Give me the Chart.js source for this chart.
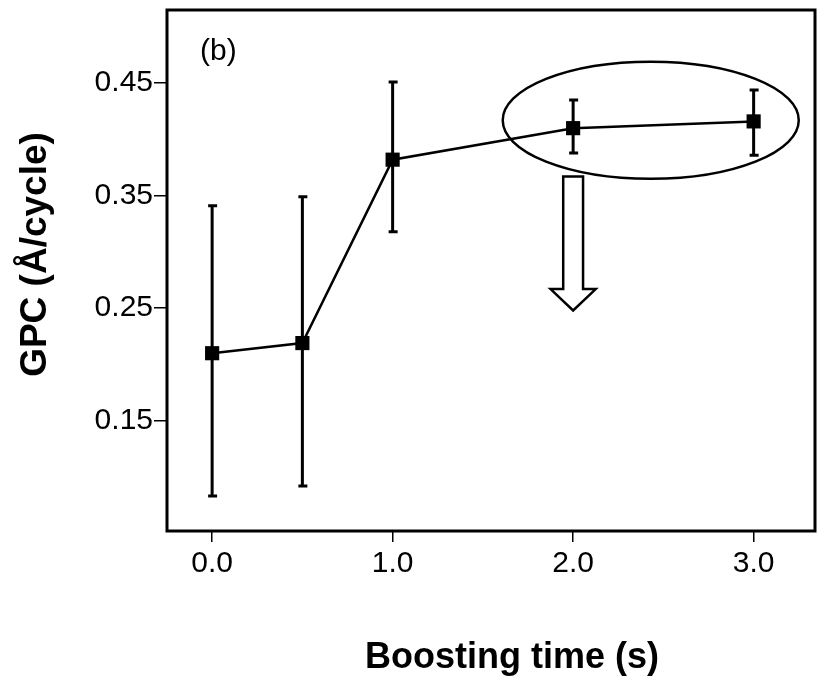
<!DOCTYPE html>
<html>
<head>
<meta charset="utf-8">
<script src="https://cdn.jsdelivr.net/npm/chart.js@4.4.0/dist/chart.umd.min.js"></script>
<style>
  body { margin: 0; background: #fff; }
  #wrap { width: 825px; height: 680px; }
</style>
</head>
<body>
<div id="wrap"><canvas id="gpcChart" width="825" height="680"></canvas></div>
<script>
// boosting time (s) and GPC (Å/cycle), with error bar ends
const boostTimes = [0, 0.5, 1, 2, 3];
const gpcValues = [0.210, 0.219, 0.382, 0.410, 0.416];
const errLow = [0.083, 0.092, 0.318, 0.388, 0.386];
const errHigh = [0.341, 0.349, 0.451, 0.435, 0.444];
const xTicks = [0, 1, 2, 3];
const yTicks = [0.15, 0.25, 0.35, 0.45];

const FONT = "'Liberation Sans', Arial, sans-serif";

// error bars, frame, ellipse + arrow, panel label, axis titles
const extras = {
  id: 'extras',
  afterDatasetsDraw(chart) {
    const { ctx, chartArea: a, scales: { x, y } } = chart;
    ctx.save();
    ctx.strokeStyle = '#000';
    ctx.lineWidth = 3;
    boostTimes.forEach((t, i) => {
      const px = x.getPixelForValue(t);
      const lo = y.getPixelForValue(errLow[i]);
      const hi = y.getPixelForValue(errHigh[i]);
      ctx.beginPath();
      ctx.moveTo(px, lo); ctx.lineTo(px, hi);
      ctx.moveTo(px - 4, lo); ctx.lineTo(px + 5, lo);
      ctx.moveTo(px - 4, hi); ctx.lineTo(px + 5, hi);
      ctx.stroke();
    });

    // ellipse round the last two points
    const cx = x.getPixelForValue(2.43), cy = y.getPixelForValue(0.417);
    const rx = x.getPixelForValue(3.25) - cx, ry = cy - y.getPixelForValue(0.469);
    ctx.lineWidth = 2.5;
    ctx.beginPath();
    ctx.ellipse(cx, cy, rx, ry, 0, 0, Math.PI * 2);
    ctx.stroke();

    // hollow down arrow
    const ax = x.getPixelForValue(2.0);
    const sw = x.getPixelForValue(2.055) - ax;
    const hw = x.getPixelForValue(2.125) - ax;
    const top = y.getPixelForValue(0.367), neck = y.getPixelForValue(0.267), tip = y.getPixelForValue(0.248);
    ctx.lineWidth = 2.5;
    ctx.beginPath();
    ctx.moveTo(ax - sw, top); ctx.lineTo(ax + sw, top); ctx.lineTo(ax + sw, neck);
    ctx.lineTo(ax + hw, neck); ctx.lineTo(ax, tip); ctx.lineTo(ax - hw, neck);
    ctx.lineTo(ax - sw, neck); ctx.closePath();
    ctx.fillStyle = '#fff';
    ctx.fill();
    ctx.stroke();

    // frame
    ctx.lineWidth = 3;
    ctx.strokeRect(a.left, a.top, a.right - a.left, a.bottom - a.top);

    // panel label
    ctx.fillStyle = '#000';
    ctx.font = '30px ' + FONT;
    ctx.textBaseline = 'middle';
    ctx.textAlign = 'left';
    ctx.fillText('(b)', a.left + 33, a.top + 42);

    // axis titles
    ctx.font = 'bold 36px ' + FONT;
    ctx.textAlign = 'center';
    ctx.fillText('Boosting time (s)', (a.left + a.right) / 2 + 21, 658);
    ctx.font = 'bold 37px ' + FONT;
    ctx.translate(36, (a.top + a.bottom) / 2 - 16);
    ctx.rotate(-Math.PI / 2);
    ctx.fillText('GPC (Å/cycle)', 0, 0);
    ctx.restore();
  }
};

new Chart(document.getElementById('gpcChart'), {
  type: 'line',
  data: {
    datasets: [{
      data: boostTimes.map((t, i) => ({ x: t, y: gpcValues[i] })),
      borderColor: '#000',
      borderWidth: 2.5,
      backgroundColor: '#000',
      pointStyle: 'rect',
      pointRadius: 10,
      pointBorderWidth: 0,
      tension: 0
    }]
  },
  options: {
    responsive: false,
    animation: false,
    layout: { padding: { top: 7, right: 2, left: 0, bottom: 0 } },
    plugins: { legend: { display: false }, tooltip: { enabled: false } },
    scales: {
      x: {
        type: 'linear',
        min: -0.25,
        max: 3.34,
        afterBuildTicks: s => { s.ticks = xTicks.map(v => ({ value: v })); },
        afterFit: s => { s.height = 149; s.paddingLeft = 0; s.paddingRight = 0; },
        grid: { drawOnChartArea: false, drawTicks: true, tickLength: 11, color: '#000', lineWidth: 1.5 },
        border: { display: false },
        ticks: {
          color: '#000',
          padding: 4,
          font: { family: FONT, size: 30 },
          callback: v => v.toFixed(1)
        }
      },
      y: {
        min: 0.052,
        max: 0.515,
        afterBuildTicks: s => { s.ticks = yTicks.map(v => ({ value: v })); },
        afterFit: s => { s.width = 167; s.paddingTop = 0; s.paddingBottom = 0; },
        grid: { drawOnChartArea: false, drawTicks: true, tickLength: 13, color: '#000', lineWidth: 1.5 },
        border: { display: false },
        ticks: {
          color: '#000',
          padding: 1,
          font: { family: FONT, size: 30 },
          callback: v => v.toFixed(2)
        }
      }
    }
  },
  plugins: [extras]
});
</script>
</body>
</html>
